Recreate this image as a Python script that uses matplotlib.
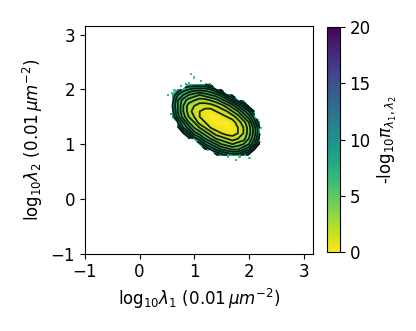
import numpy as np
import matplotlib
matplotlib.use('Agg')
import matplotlib.pyplot as plt
from matplotlib.colors import Normalize
from matplotlib.cm import ScalarMappable

n = np.nan

# grid of -log10 pi values, bin centres every 0.1 in log10 lambda
lam1 = [0.5, 0.6, 0.7, 0.8, 0.9, 1.0, 1.1, 1.2, 1.3, 1.4,
        1.5, 1.6, 1.7, 1.8, 1.9, 2.0, 2.1, 2.2, 2.3, 2.4]
lam2 = [0.8, 0.9, 1.0, 1.1, 1.2, 1.3, 1.4, 1.5, 1.6, 1.7, 1.8, 1.9, 2.0, 2.1]

# rows listed from top (lam2 = 2.1) to bottom (lam2 = 0.8)
neglogpi = [
    [n, n, n, n, 9, 9, 9, 9, 10, n, n, n, n, n, n, n, n, n, n, n],
    [n, n, 9, 7.5, 7, 6.5, 6.5, 6.5, 7, 8, 9.5, n, n, n, n, n, n, n, n, n],
    [n, 9, 7, 6, 5, 4.5, 4, 4.5, 5, 5.5, 6.5, 8, 9.5, n, n, n, n, n, n, n],
    [n, 8.5, 6, 4.5, 3.5, 3, 2.5, 2.5, 3, 3.5, 4.5, 5.5, 7, 8.5, 10, n, n, n, n, n],
    [n, 8, 6, 4, 2.5, 2, 1.5, 1.5, 1.5, 2, 2.5, 3.5, 4.5, 6, 7.5, 9.5, n, n, n, n],
    [n, 8.5, 6, 4, 2.5, 1.5, 1, 0.5, 0.5, 1, 1.5, 2, 3, 4, 5.5, 7, 9, n, n, n],
    [n, 9, 6.5, 4.5, 3, 2, 1, 0.5, 0, 0, 0.5, 1, 1.5, 2.5, 4, 5.5, 7.5, n, n, n],
    [n, n, 8, 6, 4, 3, 1.5, 1, 0.5, 0, 0, 0, 0.5, 1.5, 2.5, 4, 6.5, 9, n, n],
    [n, n, 9.5, 7, 5.5, 4, 3, 2, 1, 0.5, 0.5, 0, 0.5, 1, 2, 3.5, 5.5, 8, n, n],
    [n, n, n, 9, 7.5, 5.5, 4.5, 3.5, 2.5, 1.5, 1, 0.5, 0.5, 1, 2, 3.5, 5.5, 8, n, n],
    [n, n, n, n, 9.5, 7.5, 6.5, 5, 4, 3, 2.5, 2, 1.5, 2, 2.5, 4, 6, 8.5, n, n],
    [n, n, n, n, n, n, 8.5, 7, 6, 5, 4, 3.5, 3, 3.5, 4, 5, 7, 9.5, n, n],
    [n, n, n, n, n, n, n, 9.5, 8, 7, 6, 5.5, 5, 5, 6, 7, 9, n, n, n],
    [n, n, n, n, n, n, n, n, n, 9.5, 8.5, 8, 7.5, 7.5, 8.5, 9.5, n, n, n, n],
]

# isolated sparse bins around the edge
sparse_x = [0.94, 0.99, 1.13, 0.91, 0.76, 0.85, 1.28, 0.60, 0.64, 0.61, 0.73, 2.22,
            2.16, 2.10, 1.77, 1.83, 1.95, 2.01, 1.52, 1.16, 1.25, 1.95, 2.01, 0.52,
            0.58, 2.19, 1.62, 1.05]
sparse_y = [2.28, 2.22, 2.16, 2.11, 2.06, 2.10, 2.10, 1.93, 1.98, 1.82, 1.38, 1.29,
            1.44, 1.565, 0.71, 0.77, 0.80, 0.74, 0.83, 0.97, 0.90, 1.72, 1.63, 1.90,
            1.55, 1.05, 0.76, 1.06]
sparse_v = [6, 5, 6.5, 5.5, 6, 7, 5, 6, 5.5, 6.5, 6, 5.5,
            6, 5, 6.5, 5.5, 6, 5, 6, 6.5, 5.5, 6, 5, 6,
            7, 6, 5.5, 6.5]

contour_levels = [1, 2, 3, 4, 5, 6, 7, 8, 9]

plt.rcParams['font.size'] = 12

Z = np.ma.masked_invalid(np.array(neglogpi)[::-1])
X, Y = np.meshgrid(lam1, lam2)
norm = Normalize(vmin=0, vmax=20)

fig = plt.figure(figsize=(4.16, 3.31), dpi=100)
ax = fig.add_axes([0.204, 0.233, 0.548, 0.691])
cax = fig.add_axes([0.786, 0.239, 0.031, 0.679])

ax.contourf(X, Y, Z, levels=np.linspace(0, 10, 41), cmap='viridis_r', norm=norm)
ax.scatter(sparse_x, sparse_y, c=sparse_v, cmap='viridis_r', norm=norm,
           marker='s', s=2.5, linewidths=0)
ax.contour(X, Y, Z, levels=contour_levels, colors='k', linewidths=1.3, alpha=0.85)

ax.set_xlim(-1, 3.17)
ax.set_ylim(-1, 3.17)
ax.set_aspect('equal')
ax.set_xticks([-1, 0, 1, 2, 3])
ax.set_yticks([-1, 0, 1, 2, 3])
ax.set_xlabel(r'$\mathrm{log}_{10}\lambda_1\ (0.01\,\mu m^{-2})$')
ax.set_ylabel(r'$\mathrm{log}_{10}\lambda_2\ (0.01\,\mu m^{-2})$')

cb = fig.colorbar(ScalarMappable(norm=norm, cmap='viridis_r'), cax=cax)
cb.set_ticks([0, 5, 10, 15, 20])
cb.set_label(r'-log$_{10}\pi_{\lambda_1,\lambda_2}$')

fig.savefig('out.png')
